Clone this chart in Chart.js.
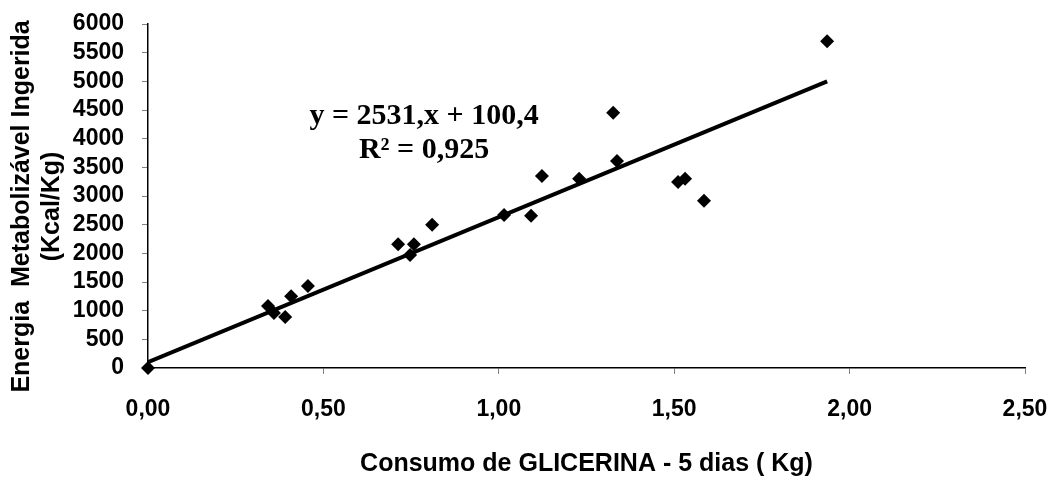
<!DOCTYPE html>
<html>
<head>
<meta charset="utf-8">
<script src="https://cdn.jsdelivr.net/npm/chart.js@4.4.1/dist/chart.umd.min.js"></script>
<style>
  html, body { margin: 0; padding: 0; background: #fff; }
  #wrap { width: 1052px; height: 477px; }
</style>
</head>
<body>
<div id="wrap"><canvas id="glicChart" width="1052" height="477"></canvas></div>
<script>
  // consumo de glicerina (kg) x energia metabolizavel ingerida (kcal/kg)
  const consumo = [0.00, 0.342, 0.359, 0.391, 0.408, 0.456, 0.713, 0.747, 0.758, 0.810,
                   1.015, 1.092, 1.123, 1.229, 1.326, 1.337, 1.511, 1.531, 1.585, 1.936];
  const energia = [0, 1080, 960, 890, 1250, 1430, 2160, 1970, 2160, 2500,
                   2670, 2655, 3350, 3300, 4450, 3610, 3245, 3300, 2915, 5700];
  const xTicks = [0, 0.5, 1.0, 1.5, 2.0, 2.5];
  const yTicks = [0, 500, 1000, 1500, 2000, 2500, 3000, 3500, 4000, 4500, 5000, 5500, 6000];
  const slope = 2531;
  const intercept = 100.4;
  const r2 = '0,925';

  const pontos = consumo.map((x, i) => ({ x: x, y: energia[i] }));
  const xMax = Math.max(...consumo);
  const tendencia = [
    { x: 0, y: intercept },
    { x: xMax, y: slope * xMax + intercept }
  ];

  const eqLabel = {
    id: 'eqLabel',
    afterDatasetsDraw(chart) {
      const { ctx, scales: { x, y } } = chart;
      ctx.save();
      ctx.fillStyle = '#000';
      ctx.textAlign = 'center';
      ctx.textBaseline = 'alphabetic';
      ctx.font = 'bold 30px "Liberation Serif", "Times New Roman", serif';
      const cx = x.getPixelForValue(0.787);
      ctx.fillText('y = ' + slope + ',x + ' + String(intercept).replace('.', ','), cx, y.getPixelForValue(4250));
      ctx.fillText('R² = ' + r2, cx, y.getPixelForValue(3660));
      ctx.restore();
    }
  };

  const tickFont = { family: '"Liberation Sans", Arial, sans-serif', size: 23, weight: 'bold' };

  new Chart(document.getElementById('glicChart').getContext('2d'), {
    type: 'scatter',
    data: {
      datasets: [
        {
          label: 'Pontos',
          data: pontos,
          pointStyle: 'rectRot',
          pointRadius: 7,
          backgroundColor: '#000',
          borderColor: '#000',
          borderWidth: 0,
          clip: false,
          order: 0
        },
        {
          label: 'Linear',
          type: 'line',
          data: tendencia,
          borderColor: '#000',
          borderWidth: 4,
          pointRadius: 0,
          fill: false,
          order: 1
        }
      ]
    },
    options: {
      responsive: false,
      animation: false,
      layout: { padding: { top: 24, right: 27, left: 0, bottom: 0 } },
      plugins: {
        legend: { display: false },
        tooltip: { enabled: false }
      },
      scales: {
        x: {
          type: 'linear',
          min: 0,
          max: 2.5,
          afterBuildTicks: (s) => { s.ticks = xTicks.map(v => ({ value: v })); },
          afterFit: (s) => { s.height = 109; s.paddingLeft = 0; s.paddingRight = 0; },
          ticks: {
            color: '#000',
            font: tickFont,
            padding: 22,
            maxRotation: 0,
            autoSkip: false,
            callback: (v) => v.toFixed(2).replace('.', ',')
          },
          grid: { drawOnChartArea: false, drawTicks: true, tickLength: 6, color: '#808080' },
          border: { color: '#000', width: 1.5 },
          title: {
            display: true,
            text: 'Consumo de GLICERINA - 5 dias ( Kg)',
            color: '#000',
            font: { family: '"Liberation Sans", Arial, sans-serif', size: 25, weight: 'bold', lineHeight: 1 },
            padding: { top: 0, bottom: 0 }
          }
        },
        y: {
          min: 0,
          max: 6000,
          afterBuildTicks: (s) => { s.ticks = yTicks.map(v => ({ value: v })); },
          afterFit: (s) => { s.width = 148; s.paddingTop = 0; s.paddingBottom = 0; },
          ticks: {
            color: '#000',
            font: tickFont,
            padding: 18,
            autoSkip: false,
            callback: (v) => String(v)
          },
          grid: { drawOnChartArea: false, drawTicks: true, tickLength: 6, color: '#808080' },
          border: { color: '#000', width: 1.5 },
          title: {
            display: true,
            text: ['Energia  Metabolizável Ingerida   ', '(Kcal/Kg)   '],
            color: '#000',
            font: { family: '"Liberation Sans", Arial, sans-serif', size: 25, weight: 'bold', lineHeight: 1.2 },
            padding: { top: 7, bottom: 0 }
          }
        }
      }
    },
    plugins: [eqLabel]
  });
</script>
</body>
</html>
